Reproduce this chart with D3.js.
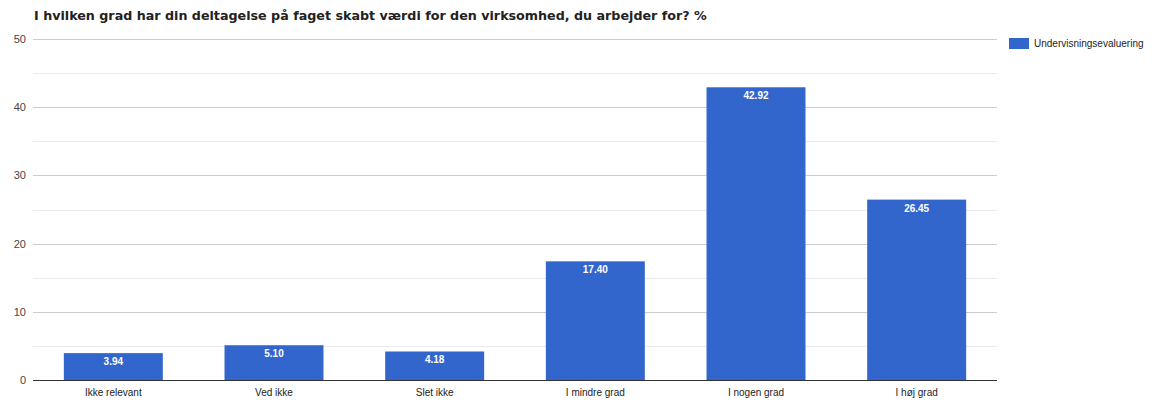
<!DOCTYPE html>
<html><head><meta charset="utf-8">
<script src="https://cdn.jsdelivr.net/npm/d3@7"></script>
<style>body{margin:0;background:#fff;font-family:Arial,"Liberation Sans",sans-serif;}</style>
</head><body>
<svg id="c" width="1162" height="403"></svg>
<script>
const categories = ["Ikke relevant","Ved ikke","Slet ikke","I mindre grad","I nogen grad","I høj grad"];
const values = [3.94, 5.10, 4.18, 17.40, 42.92, 26.45];
const seriesName = "Undervisningsevaluering";
const majorTicks = [0,10,20,30,40,50];
const minorTicks = [5,15,25,35,45];
const title = "I hvilken grad har din deltagelse på faget skabt værdi for den virksomhed, du arbejder for? %";

const svg = d3.select("#c");
const L = 33, R = 997, T = 39, B = 380;
const x = d3.scaleBand().domain(categories).range([L, R]).paddingInner(0.384).paddingOuter(0.192);
const y = d3.scaleLinear().domain([0, 50]).range([B, T]);

svg.append("text").attr("x", 34).attr("y", 20).attr("font-family", "'DejaVu Sans', Verdana, sans-serif")
  .attr("font-weight", "bold").attr("font-size", 12.7).attr("fill", "#222").text(title);

svg.append("g").selectAll("line").data(minorTicks).join("line")
  .attr("x1", L).attr("x2", R).attr("y1", d => Math.round(y(d)) + 0.5).attr("y2", d => Math.round(y(d)) + 0.5)
  .attr("stroke", "#ebebeb");
svg.append("g").selectAll("line").data(majorTicks.filter(d => d !== 0)).join("line")
  .attr("x1", L).attr("x2", R).attr("y1", d => Math.round(y(d)) + 0.5).attr("y2", d => Math.round(y(d)) + 0.5)
  .attr("stroke", "#cccccc");

svg.append("g").selectAll("text").data(majorTicks).join("text")
  .attr("x", 26).attr("y", d => y(d) + 4).attr("text-anchor", "end")
  .attr("font-size", 11).attr("fill", "#444").text(d => d);

svg.append("g").selectAll("rect").data(values).join("rect")
  .attr("x", (d, i) => x(categories[i])).attr("width", x.bandwidth())
  .attr("y", d => y(d)).attr("height", d => B - y(d)).attr("fill", "#3366cc");

svg.append("g").selectAll("text").data(values).join("text")
  .attr("x", (d, i) => x(categories[i]) + x.bandwidth() / 2).attr("y", d => y(d) + 12)
  .attr("text-anchor", "middle").attr("font-size", 10).attr("font-weight", "bold").attr("fill", "#fff").text(d => d.toFixed(2));

svg.append("line").attr("x1", L).attr("x2", R).attr("y1", B + 0.5).attr("y2", B + 0.5).attr("stroke", "#333");

svg.append("g").selectAll("text").data(categories).join("text")
  .attr("x", d => x(d) + x.bandwidth() / 2).attr("y", 396).attr("text-anchor", "middle")
  .attr("font-size", 10).attr("fill", "#222").text(d => d);

const lg = svg.append("g");
lg.append("rect").attr("x", 1009).attr("y", 38).attr("width", 20).attr("height", 11).attr("fill", "#3366cc");
lg.append("text").attr("x", 1034).attr("y", 47).attr("font-size", 10).attr("fill", "#222").text(seriesName);
</script>
</body></html>
